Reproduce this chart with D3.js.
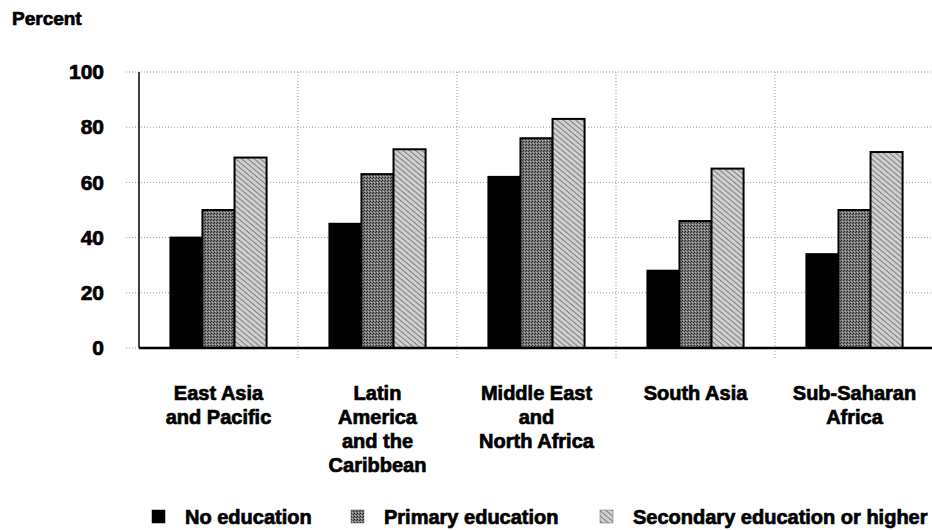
<!DOCTYPE html>
<html>
<head>
<meta charset="utf-8">
<script src="https://cdn.jsdelivr.net/npm/d3@7"></script>
<style>
  body { margin: 0; background: #fff; }
  text { font-family: "Liberation Sans", Arial, sans-serif; font-weight: bold; fill: #000; stroke: #000; stroke-width: 0.7px; }
</style>
</head>
<body>
<div id="chart"></div>
<script>
// Data
const regions = [
  ["East Asia", "and Pacific"],
  ["Latin", "America", "and the", "Caribbean"],
  ["Middle East", "and", "North Africa"],
  ["South Asia"],
  ["Sub-Saharan", "Africa"]
];
const series = ["No education", "Primary education", "Secondary education or higher"];
const noEducation = [40, 45, 62, 28, 34];
const primary = [50, 63, 76, 46, 50];
const secondary = [69, 72, 83, 65, 71];
const yTicks = [0, 20, 40, 60, 80, 100];

const width = 932, height = 530;
const margin = { top: 72, left: 139, right: -2, bottom: 182 };
const innerW = width - margin.left - margin.right;
const innerH = height - margin.top - margin.bottom;

const svg = d3.select("#chart").append("svg")
  .attr("width", width)
  .attr("height", height);

// Fill patterns
const defs = svg.append("defs");
const p1 = defs.append("pattern")
  .attr("id", "pat-primary")
  .attr("width", 3).attr("height", 3)
  .attr("patternUnits", "userSpaceOnUse");
p1.append("rect").attr("width", 3).attr("height", 3).attr("fill", "#7a7a7a");
p1.append("rect").attr("width", 1).attr("height", 1).attr("fill", "#222");
p1.append("rect").attr("x", 2).attr("y", 1).attr("width", 1).attr("height", 1).attr("fill", "#333");
p1.append("rect").attr("x", 1).attr("y", 2).attr("width", 1).attr("height", 1).attr("fill", "#b5b5b5");

const p2 = defs.append("pattern")
  .attr("id", "pat-secondary")
  .attr("width", 4).attr("height", 4)
  .attr("patternUnits", "userSpaceOnUse")
  .attr("patternTransform", "rotate(40)");
p2.append("rect").attr("width", 4).attr("height", 4).attr("fill", "#d0d0d0");
p2.append("rect").attr("width", 4).attr("height", 1).attr("fill", "#7e7e7e");

const fills = ["#000", "url(#pat-primary)", "url(#pat-secondary)"];

const g = svg.append("g").attr("transform", `translate(${margin.left},${margin.top})`);

const x0 = d3.scaleBand()
  .domain(d3.range(regions.length))
  .range([0, innerW])
  .padding(0);

const x1 = d3.scaleBand()
  .domain(series)
  .range([0, x0.bandwidth()])
  .paddingInner(0)
  .paddingOuter(0.98);

const y = d3.scaleLinear().domain([0, 100]).range([innerH, 0]);

// Horizontal dotted gridlines
g.append("g")
  .selectAll("line")
  .data(yTicks.filter(d => d > 0))
  .join("line")
  .attr("x1", -13)
  .attr("x2", innerW)
  .attr("y1", d => y(d))
  .attr("y2", d => y(d))
  .attr("stroke", "#999")
  .attr("stroke-width", 1)
  .attr("stroke-dasharray", "1,2");

// Vertical dotted gridlines between groups
g.append("g")
  .selectAll("line")
  .data(d3.range(1, regions.length))
  .join("line")
  .attr("x1", d => x0(d))
  .attr("x2", d => x0(d))
  .attr("y1", y(100))
  .attr("y2", innerH + 10)
  .attr("stroke", "#999")
  .attr("stroke-width", 1)
  .attr("stroke-dasharray", "1,2");

// Y axis labels
const yAxis = g.append("g")
  .call(d3.axisLeft(y).tickValues(yTicks).tickSize(0).tickPadding(35));
yAxis.select(".domain").remove();
yAxis.selectAll("text")
  .style("font-size", "21px")
  .style("font-family", "'Liberation Sans', Arial, sans-serif")
  .style("font-weight", "bold")
  .style("stroke", "#000")
  .style("stroke-width", "0.7px");

// Y axis line
g.append("line")
  .attr("x1", 0).attr("x2", 0)
  .attr("y1", y(100)).attr("y2", y(0))
  .attr("stroke", "#000")
  .attr("stroke-width", 1.5);

// Bars
const rows = regions.map((r, i) => [noEducation[i], primary[i], secondary[i]]);
const group = g.append("g")
  .selectAll("g")
  .data(rows)
  .join("g")
  .attr("transform", (d, i) => `translate(${x0(i)},0)`);

group.selectAll("rect")
  .data(d => d.map((v, j) => ({ key: series[j], value: v, j })))
  .join("rect")
  .attr("x", d => x1(d.key))
  .attr("y", d => y(d.value))
  .attr("width", x1.bandwidth())
  .attr("height", d => y(0) - y(d.value))
  .attr("fill", d => fills[d.j])
  .attr("stroke", "#000")
  .attr("stroke-width", 2);

// Baseline
g.append("line")
  .attr("x1", 0).attr("x2", innerW)
  .attr("y1", y(0)).attr("y2", y(0))
  .attr("stroke", "#000")
  .attr("stroke-width", 2.5);
g.append("line")
  .attr("x1", -13).attr("x2", 0)
  .attr("y1", y(0)).attr("y2", y(0))
  .attr("stroke", "#999")
  .attr("stroke-dasharray", "1,2");

// Category labels
const cat = g.append("g")
  .selectAll("text")
  .data(regions)
  .join("text")
  .attr("x", (d, i) => x0(i) + x0.bandwidth() / 2)
  .attr("y", innerH + 52)
  .attr("text-anchor", "middle")
  .style("font-size", "20px");
cat.selectAll("tspan")
  .data(d => d)
  .join("tspan")
  .attr("x", function () { return d3.select(this.parentNode).attr("x"); })
  .attr("dy", (d, i) => i === 0 ? 0 : 24)
  .text(d => d);

// Title
svg.append("text")
  .attr("x", 12)
  .attr("y", 25)
  .style("font-size", "19px")
  .text("Percent");

// Legend
const legendX = [152, 351, 600];
const legend = svg.append("g")
  .selectAll("g")
  .data(series)
  .join("g")
  .attr("transform", (d, i) => `translate(${legendX[i]},510)`);
legend.append("rect")
  .attr("width", 13)
  .attr("height", 13)
  .attr("fill", (d, i) => fills[i])
  .attr("stroke", (d, i) => i === 0 ? "#000" : "#666")
  .attr("stroke-width", 0.5);
legend.append("text")
  .attr("x", 33)
  .attr("y", 14)
  .style("font-size", "20px")
  .text(d => d);
</script>
</body>
</html>
